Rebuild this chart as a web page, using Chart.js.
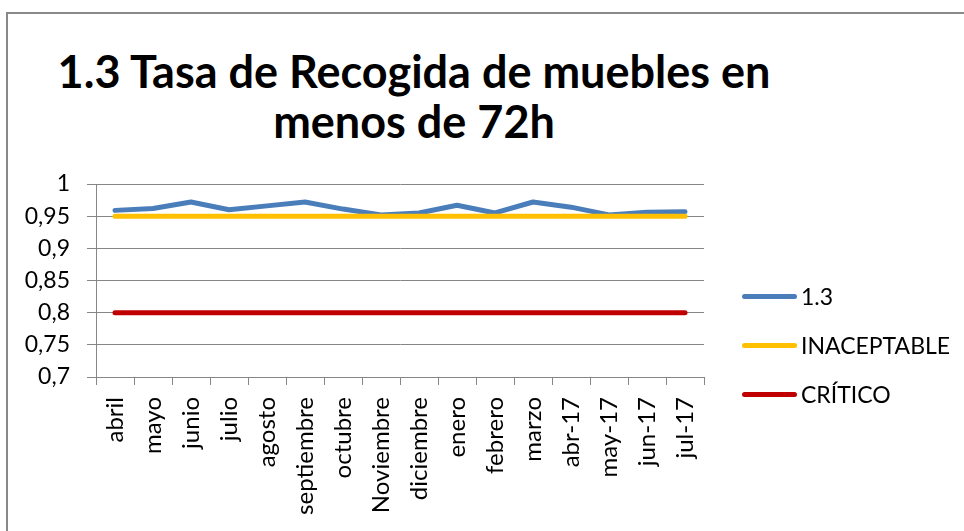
<!DOCTYPE html>
<html>
<head>
<meta charset="utf-8">
<script src="https://cdn.jsdelivr.net/npm/chart.js@4"></script>
<style>
  body { margin: 0; background: #fff; font-family: Lato, sans-serif; }
  #wrap { position: relative; width: 964px; height: 531px; overflow: hidden; }
  #frame { position: absolute; left: 6px; top: 12px; width: 1000px; height: 600px; border: 2px solid #898989; }
  #title { position: absolute; left: 0; top: 46px; width: 828px; text-align: center;
           font: bold 45px/50px Lato, sans-serif; color: #000; }
  #chart-box { position: absolute; left: 0; top: 0; width: 964px; height: 531px; }
  #legend { position: absolute; left: 742px; top: 280px; font: 23px Lato, sans-serif; color: #000; }
  .item { display: flex; align-items: center; height: 32px; margin-bottom: 17px; }
  .swatch { width: 55px; height: 5px; border-radius: 3px; margin-right: 4px; }
</style>
</head>
<body>
<div id="wrap">
  <div id="frame"></div>
  <div id="title">1.3 Tasa de Recogida de muebles en<br>menos de 72h</div>
  <div id="chart-box"><canvas id="chart"></canvas></div>
  <div id="legend"></div>
</div>
<script>
  const meses = ["abril", "mayo", "junio", "julio", "agosto", "septiembre", "octubre", "Noviembre",
    "diciembre", "enero", "febrero", "marzo", "abr-17", "may-17", "jun-17", "jul-17"];
  const tasa = [0.959, 0.962, 0.972, 0.960, 0.966, 0.972, 0.961, 0.952,
    0.955, 0.967, 0.955, 0.972, 0.964, 0.952, 0.956, 0.957];
  const inaceptable = meses.map(() => 0.95);
  const critico = meses.map(() => 0.8);

  const series = [
    { label: "1.3", data: tasa, color: "#4a7ebb", order: 1 },
    { label: "INACEPTABLE", data: inaceptable, color: "#ffc000", order: 0 },
    { label: "CRÍTICO", data: critico, color: "#c00000", order: 2 },
  ];

  const gridColor = "#868686";

  const ctx = document.getElementById("chart").getContext("2d");
  const chart = new Chart(ctx, {
    type: "line",
    data: {
      labels: meses,
      datasets: series.map((s) => ({
        label: s.label,
        data: s.data,
        borderColor: s.color,
        backgroundColor: s.color,
        borderWidth: 5,
        borderCapStyle: "round",
        borderJoinStyle: "round",
        pointRadius: 0,
        tension: 0,
        order: s.order,
      })),
    },
    options: {
      responsive: true,
      maintainAspectRatio: false,
      animation: false,
      layout: { padding: { left: 0, top: 184, right: 260, bottom: 0 } },
      plugins: {
        legend: { display: false },
        title: { display: false },
        tooltip: { enabled: false },
      },
      scales: {
        x: {
          offset: true,
          grid: {
            offset: true,
            drawOnChartArea: false,
            drawTicks: true,
            tickLength: 8,
            color: gridColor,
          },
          border: { color: gridColor, width: 1 },
          ticks: {
            minRotation: 90,
            maxRotation: 90,
            autoSkip: false,
            padding: 12,
            color: "#000",
            font: { family: "Lato", size: 24 },
          },
          afterFit: (scale) => { scale.height = 154; },
        },
        y: {
          min: 0.7,
          max: 1,
          grid: { color: gridColor, tickLength: 9 },
          border: { color: gridColor, width: 1 },
          ticks: {
            stepSize: 0.05,
            padding: 17,
            color: "#000",
            font: { family: "Lato", size: 23 },
            callback: (v) => Number(v.toFixed(2)).toString().replace(".", ","),
          },
          afterFit: (scale) => { scale.width = 96; },
        },
      },
    },
  });

  const legend = document.getElementById("legend");
  series.forEach((s) => {
    const item = document.createElement("div");
    item.className = "item";
    item.innerHTML = `<span class="swatch" style="background:${s.color}"></span><span>${s.label}</span>`;
    legend.appendChild(item);
  });
</script>
</body>
</html>
